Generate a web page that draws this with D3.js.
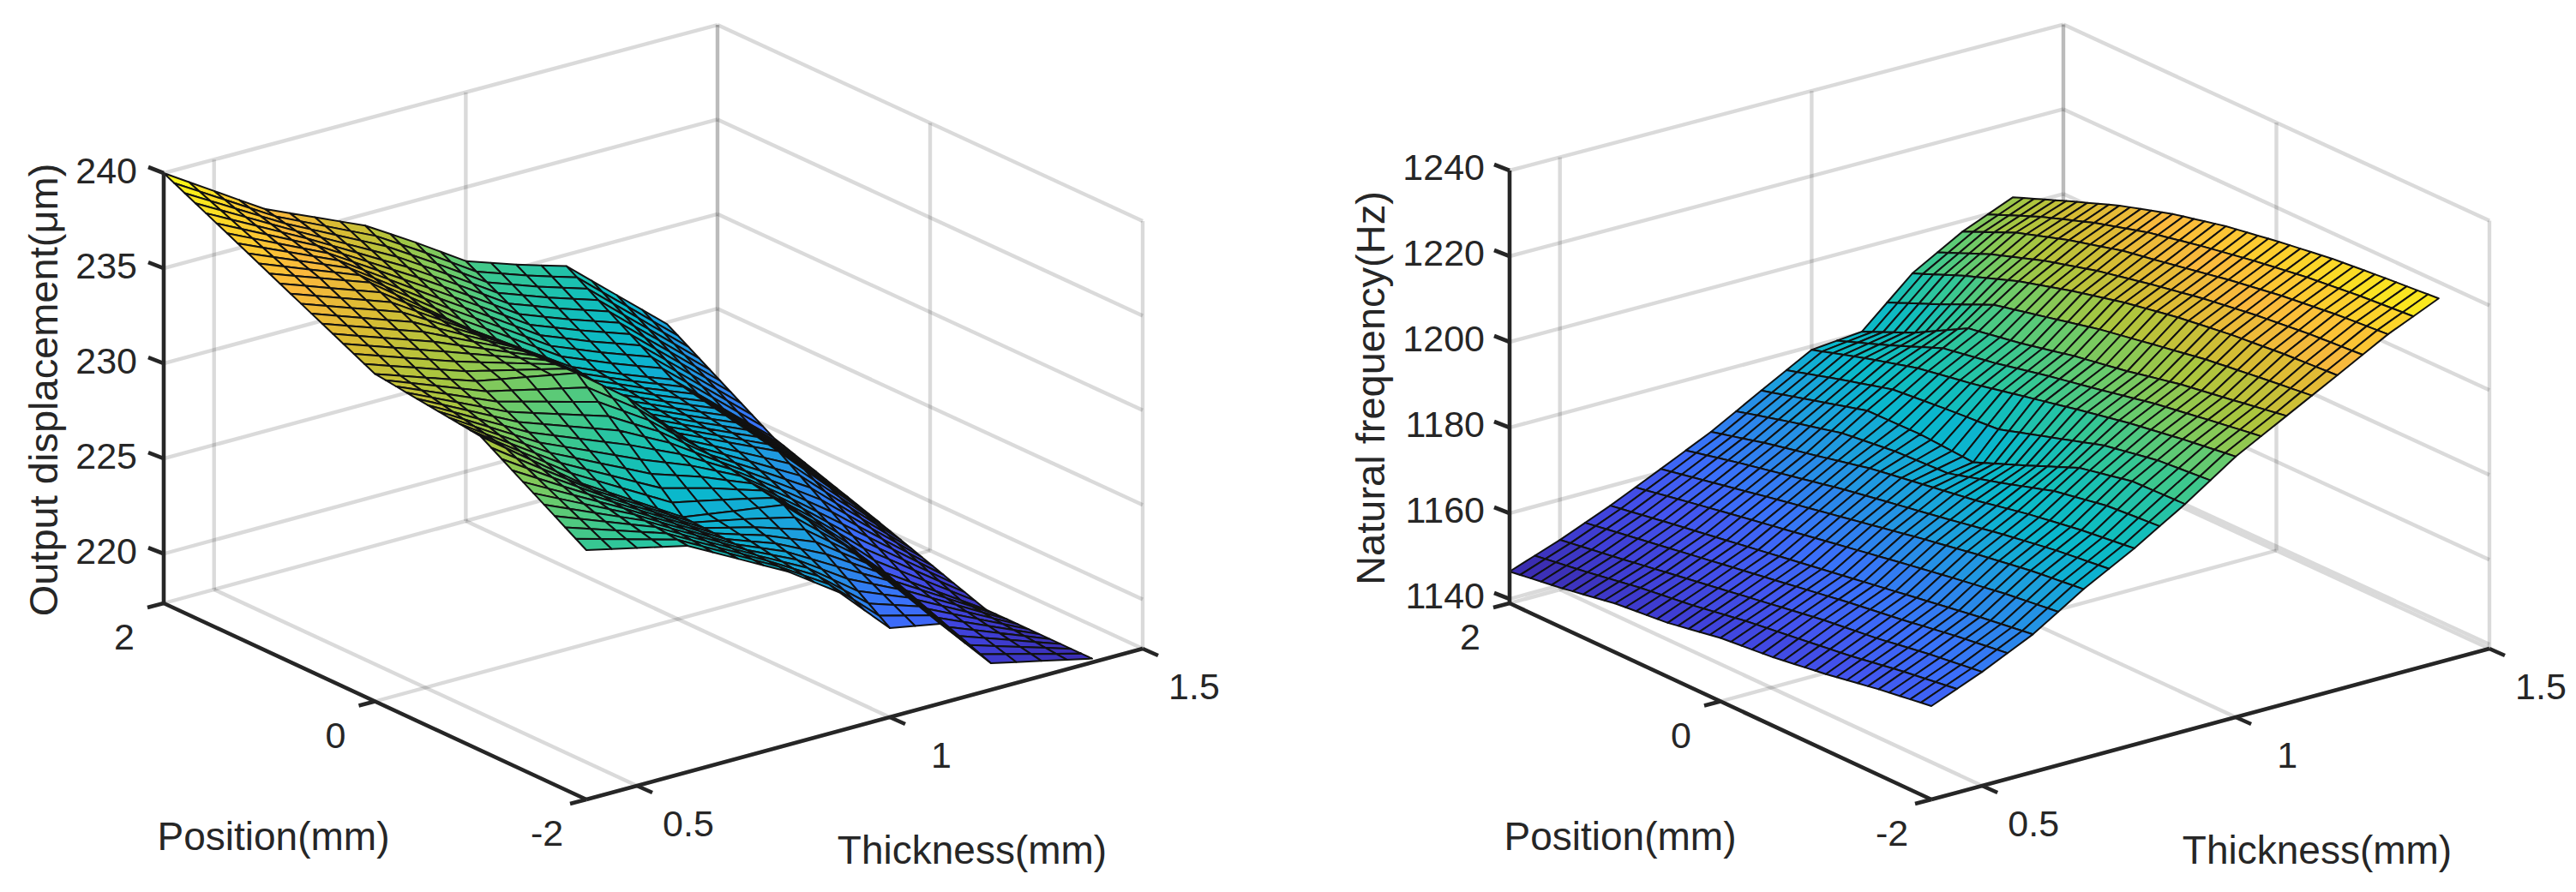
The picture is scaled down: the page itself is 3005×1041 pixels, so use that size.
<!DOCTYPE html>
<html>
<head>
<meta charset="utf-8">
<script src="https://cdn.jsdelivr.net/npm/d3@7"></script>
<style>
  html, body { margin: 0; padding: 0; background: #fff; }
  text { font-family: "Liberation Sans", Arial, sans-serif; fill: #262626; }
</style>
</head>
<body>
<div id="chart"></div>
<script>
const svgWidth = 3005;
const svgHeight = 1041;

// tick labels
const thicknessTicks = [0.5, 1, 1.5];
const positionTicks = [2, 0, -2];
const displacementTicks = [220, 225, 230, 235, 240];
const frequencyTicks = [1140, 1160, 1180, 1200, 1220, 1240];

// values at the crease points of each surface
// rows follow thickness, columns follow position (2 down to -2)
const displacementThickness = [0.4, 0.6, 0.8, 0.9, 1.0, 1.1, 1.2, 1.4];
const displacementPosition = [2, 1, 0, -1, -2];
const displacement = [
  [240.0, 237.3, 234.6, 233.9, 230.5],
  [236.7, 235.4, 232.8, 230.0, 229.3],
  [234.4, 231.5, 231.8, 226.8, 226.5],
  [232.8, 229.8, 229.8, 226.4, 224.7],
  [231.1, 228.1, 227.2, 226.0, 222.1],
  [230.2, 227.0, 226.0, 223.6, 221.6],
  [229.4, 226.0, 224.8, 221.0, 218.8],
  [224.9, 221.5, 219.6, 217.6, 217.6]
];

const frequencyThickness = [0.4, 0.5, 0.6, 0.7, 0.8, 0.9, 1.0, 1.1, 1.2, 1.3, 1.4];
const frequencyPosition = [2, 1.5, 1, 0.5, 0, -0.5, -1, -1.5, -2];
const frequency = [
  [1146.4, 1148.2, 1150.4, 1151.6, 1153.8, 1155.0, 1156.8, 1159.0, 1160.8],
  [1150.6, 1152.5, 1154.5, 1156.5, 1158.5, 1160.5, 1162.0, 1164.0, 1165.6],
  [1155.4, 1157.5, 1159.5, 1161.5, 1163.5, 1165.5, 1167.5, 1169.5, 1171.2],
  [1160.8, 1163.3, 1165.8, 1168.2, 1170.6, 1173.0, 1175.2, 1177.2, 1178.6],
  [1166.3, 1169.5, 1172.2, 1175.0, 1177.0, 1179.0, 1181.5, 1183.5, 1185.0],
  [1172.8, 1176.2, 1179.6, 1179.8, 1179.0, 1184.0, 1189.2, 1191.8, 1192.2],
  [1179.2, 1183.0, 1186.4, 1188.6, 1191.3, 1194.0, 1196.5, 1198.5, 1200.2],
  [1180.3, 1185.8, 1192.6, 1194.8, 1197.6, 1199.8, 1202.5, 1204.5, 1206.6],
  [1190.8, 1196.0, 1200.5, 1204.0, 1207.0, 1209.3, 1211.0, 1212.2, 1213.0],
  [1197.5, 1203.0, 1207.0, 1210.3, 1212.6, 1215.0, 1217.0, 1218.5, 1219.5],
  [1202.4, 1207.3, 1212.0, 1215.8, 1218.7, 1220.8, 1222.6, 1223.8, 1224.8]
];

// parula colour map
const parula = ["#3b2cae", "#3f3fd6", "#4354ee", "#3a70fa", "#2a88ea", "#1aa2dc", "#09b8cc",
  "#14bfb8", "#34c795", "#6ccb6a", "#a9c63f", "#d9bc33", "#fbb93d", "#fcd22b", "#f9fb15"];

const svg = d3.select("#chart")
  .append("svg")
  .attr("width", svgWidth)
  .attr("height", svgHeight);

// the mesh lines of the surface: each crease patch is split into the cells
// the original shows (0.05 in thickness, 0.1 in position)
const meshThickness = d3.range(21).map(i => 0.4 + i * 0.05);
const meshPosition = d3.range(41).map(i => 2 - i * 0.1);

function readSurface(xs, ys, rows, x, y) {
  const sx = d3.scaleLinear().domain(xs).range(d3.range(xs.length)).clamp(true);
  const sy = d3.scaleLinear().domain(ys).range(d3.range(ys.length)).clamp(true);
  const fx = sx(x), fy = sy(y);
  const i = Math.min(Math.floor(fx), xs.length - 2), j = Math.min(Math.floor(fy), ys.length - 2);
  const a = fx - i, b = fy - j;
  return rows[i][j] * (1 - a) * (1 - b) + rows[i + 1][j] * a * (1 - b) +
    rows[i][j + 1] * (1 - a) * b + rows[i + 1][j + 1] * a * b;
}

function drawPanel(p) {
  const g = svg.append("g");
  const thicknessScale = d3.scaleLinear().domain([0.4, 1.5]).range([0, 1]);
  const positionScale = d3.scaleLinear().domain([2, -2]).range([0, 1]);
  const valueScale = d3.scaleLinear().domain(p.zDomain).range([0, p.boxHeight]);

  const project = (x, y, z) => {
    const t = thicknessScale(x), s = positionScale(y);
    const back = t * (1 - s);
    return [p.origin[0] + t * p.thicknessVec[0] + s * p.positionVec[0] + back * p.backShift,
      p.origin[1] + t * p.thicknessVec[1] + s * p.positionVec[1] - valueScale(z) * (1 - t * p.shrink)];
  };
  const drawLine = d3.line();

  const zMin = p.zDomain[0], zMax = p.zDomain[1];
  const xMin = 0.4, xMax = 1.5;

  // grid on the two back walls and the floor
  const grid = [];
  thicknessTicks.forEach(x => {
    grid.push([[x, 2, zMin], [x, 2, zMax]]);
    grid.push([[x, 2, zMin], [x, -2, zMin]]);
  });
  positionTicks.forEach(y => {
    grid.push([[xMax, y, zMin], [xMax, y, zMax]]);
    grid.push([[xMin, y, zMin], [xMax, y, zMin]]);
  });
  p.zTicks.forEach(z => {
    grid.push([[xMin, 2, z], [xMax, 2, z]]);
    grid.push([[xMax, 2, z], [xMax, -2, z]]);
  });
  g.append("g").selectAll("path")
    .data(grid)
    .join("path")
    .attr("d", d => drawLine(d.map(c => project(...c))))
    .attr("fill", "none")
    .attr("stroke", "#262626")
    .attr("stroke-opacity", 0.17)
    .attr("stroke-width", 4.4);

  // surface cells, back to front
  const color = d3.scaleLinear()
    .domain(d3.quantize(d3.interpolate(...d3.extent(p.rows.flat())), parula.length))
    .range(parula);
  const zAt = (x, y) => readSurface(p.xs, p.ys, p.rows, x, y);
  const cells = [];
  for (let i = meshThickness.length - 2; i >= 0; i--) {
    for (let j = 0; j < meshPosition.length - 1; j++) {
      cells.push({ i, j });
    }
  }
  g.append("g").selectAll("path")
    .data(cells)
    .join("path")
    .attr("d", d => {
      const x0 = meshThickness[d.i], x1 = meshThickness[d.i + 1];
      const y0 = meshPosition[d.j], y1 = meshPosition[d.j + 1];
      return drawLine([[x0, y0], [x1, y0], [x1, y1], [x0, y1]]
        .map(c => project(c[0], c[1], zAt(c[0], c[1])))) + "Z";
    })
    .attr("fill", d => color(zAt(meshThickness[d.i], meshPosition[d.j + 1])))
    .attr("stroke", "#111")
    .attr("stroke-width", 2)
    .attr("stroke-linejoin", "round");

  // axes
  const axes = [
    [[xMin, 2, zMin], [xMin, 2, zMax]],
    [[xMin, 2, zMin], [xMin, -2, zMin]],
    [[xMin, -2, zMin], [xMax, -2, zMin]]
  ];
  g.append("g").selectAll("path")
    .data(axes)
    .join("path")
    .attr("d", d => drawLine(d.map(c => project(...c))))
    .attr("fill", "none")
    .attr("stroke", "#262626")
    .attr("stroke-width", 4.6);

  const ticks = [];
  p.zTicks.forEach(z => {
    const a = project(xMin, 2, z);
    ticks.push([a, [a[0] - 18, a[1] - 7]]);
  });
  positionTicks.forEach(y => {
    const a = project(xMin, y, zMin);
    ticks.push([a, [a[0] - 19, a[1] + 5]]);
  });
  thicknessTicks.forEach(x => {
    const a = project(x, -2, zMin);
    ticks.push([a, [a[0] + 18, a[1] + 8]]);
  });
  g.append("g").selectAll("path")
    .data(ticks)
    .join("path")
    .attr("d", d => drawLine(d))
    .attr("fill", "none")
    .attr("stroke", "#262626")
    .attr("stroke-width", 4.6);

  // tick labels
  const labels = g.append("g").attr("font-size", 43);
  labels.selectAll(".ztick")
    .data(p.zTicks)
    .join("text")
    .attr("class", "ztick")
    .attr("x", p.zLabelX)
    .attr("y", d => project(xMin, 2, d)[1] + p.zLabelDy)
    .attr("text-anchor", "end")
    .attr("dominant-baseline", "central")
    .text(d => d);
  labels.selectAll(".ptick")
    .data(positionTicks)
    .join("text")
    .attr("class", "ptick")
    .attr("x", d => project(xMin, d, zMin)[0] - 46)
    .attr("y", d => project(xMin, d, zMin)[1] + 39)
    .attr("text-anchor", "middle")
    .attr("dominant-baseline", "central")
    .text(d => d);
  labels.selectAll(".ttick")
    .data(thicknessTicks)
    .join("text")
    .attr("class", "ttick")
    .attr("x", d => project(d, -2, zMin)[0] + 60)
    .attr("y", d => project(d, -2, zMin)[1] + 44)
    .attr("text-anchor", "middle")
    .attr("dominant-baseline", "central")
    .text(d => d);

  // axis titles
  g.append("text")
    .attr("x", p.positionTitle[0]).attr("y", p.positionTitle[1])
    .attr("font-size", 46).attr("text-anchor", "middle").attr("dominant-baseline", "central")
    .text("Position(mm)");
  g.append("text")
    .attr("x", p.thicknessTitle[0]).attr("y", p.thicknessTitle[1])
    .attr("font-size", 46).attr("text-anchor", "middle").attr("dominant-baseline", "central")
    .text("Thickness(mm)");
  g.append("text")
    .attr("transform", `translate(${p.zTitle[0]}, ${p.zTitle[1]}) rotate(-90)`)
    .attr("font-size", 47).attr("text-anchor", "middle").attr("dominant-baseline", "central")
    .text(p.zName);
}

drawPanel({
  origin: [191, 704], thicknessVec: [649, -176], positionVec: [493, 229], backShift: -3, shrink: 0.006,
  zDomain: [217.4, 240], boxHeight: 502, zTicks: displacementTicks,
  xs: displacementThickness, ys: displacementPosition, rows: displacement,
  zLabelX: 160, zLabelDy: -3,
  positionTitle: [319, 976], thicknessTitle: [1134, 992], zTitle: [50, 455],
  zName: "Output displacement(\u03bcm)"
});

drawPanel({
  origin: [1761, 704], thicknessVec: [651, -176], positionVec: [492, 229], backShift: -5, shrink: 0.011,
  zDomain: [1139, 1240], boxHeight: 505, zTicks: frequencyTicks,
  xs: frequencyThickness, ys: frequencyPosition, rows: frequency,
  zLabelX: 1732, zLabelDy: -4,
  positionTitle: [1890, 976], thicknessTitle: [2703, 992], zTitle: [1598, 453],
  zName: "Natural frequency(Hz)"
});
</script>
</body>
</html>
